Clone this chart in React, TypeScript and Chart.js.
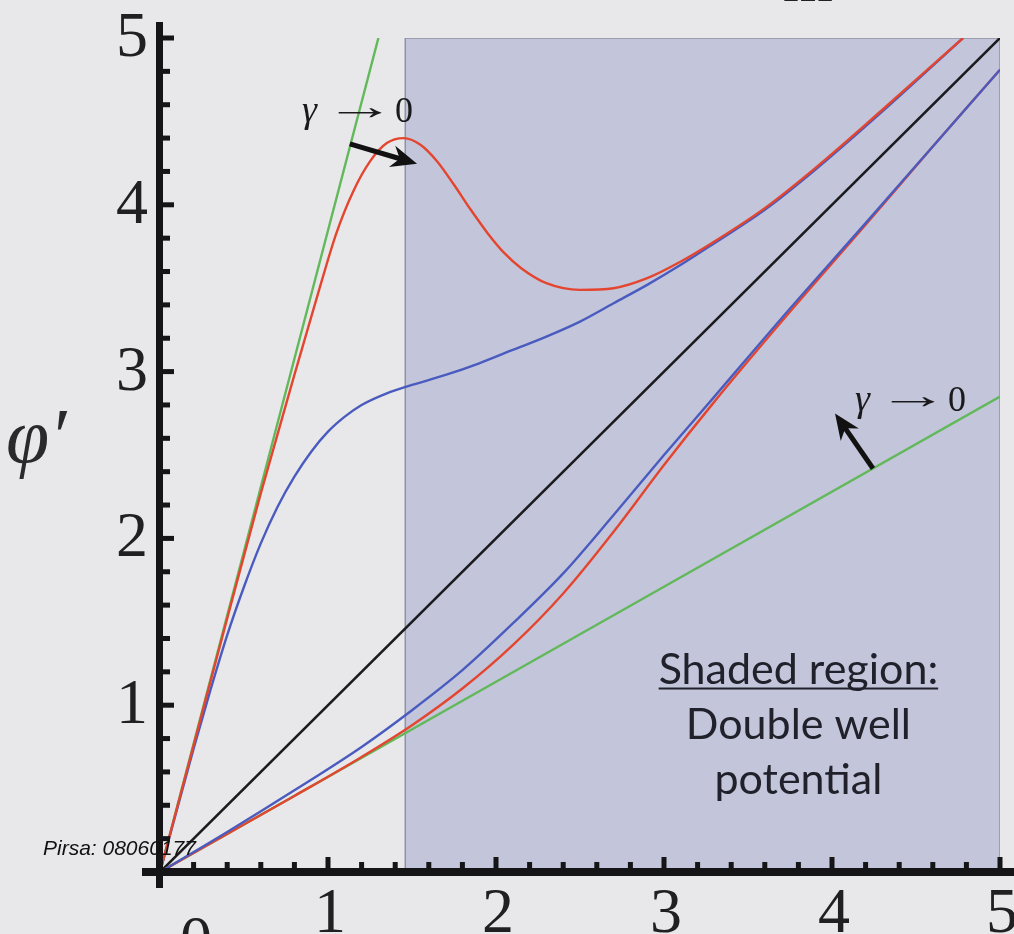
import React, { useEffect, useRef } from "react";
import { Chart, registerables } from "chart.js";

Chart.register(...registerables);

// ---- axis ranges & ticks ----
const X_MIN = 0;
const X_MAX = 5;
const Y_MIN = 0;
const Y_MAX = 5;
const majorTicks = [1, 2, 3, 4, 5];
const xTickLabels = ["1", "2", "3", "4", "5"];
const yTickLabels = ["1", "2", "3", "4", "5"];
const minorTicks = [0.2, 0.4, 0.6, 0.8, 1.2, 1.4, 1.6, 1.8, 2.2, 2.4, 2.6, 2.8, 3.2, 3.4, 3.6, 3.8, 4.2, 4.4, 4.6, 4.8];

// ---- series ----
const redUpperX = [0, 0.2, 0.4, 0.6, 0.8, 0.95, 1.05, 1.15, 1.25, 1.35, 1.45, 1.55, 1.65, 1.75, 1.85, 1.95, 2.05, 2.15, 2.3, 2.5, 2.7, 2.9, 3.1, 3.3, 3.6, 3.9, 4.3, 4.78];
const redUpperY = [0, 0.76, 1.52, 2.27, 2.98, 3.5, 3.83, 4.08, 4.26, 4.37, 4.4, 4.36, 4.26, 4.12, 3.97, 3.83, 3.71, 3.62, 3.53, 3.49, 3.5, 3.56, 3.66, 3.78, 3.98, 4.22, 4.57, 5.0];

const blueUpperX = [0, 0.1, 0.2, 0.3, 0.4, 0.5, 0.6, 0.7, 0.8, 0.9, 1.0, 1.1, 1.2, 1.35, 1.5, 1.7, 1.9, 2.1, 2.3, 2.5, 2.7, 2.9, 3.1, 3.3, 3.6, 3.9, 4.3, 4.78];
const blueUpperY = [0, 0.37, 0.74, 1.09, 1.42, 1.71, 1.97, 2.19, 2.37, 2.52, 2.64, 2.73, 2.8, 2.87, 2.92, 2.98, 3.05, 3.13, 3.21, 3.3, 3.41, 3.52, 3.64, 3.77, 3.97, 4.21, 4.56, 5.0];

const blueLowerX = [0, 0.4, 0.8, 1.2, 1.5, 1.8, 2.1, 2.4, 2.7, 3.0, 3.3, 3.7, 4.2, 4.6, 5.0];
const blueLowerY = [0, 0.24, 0.49, 0.75, 0.97, 1.21, 1.49, 1.79, 2.14, 2.5, 2.85, 3.32, 3.89, 4.35, 4.81];

const redLowerX = [0, 0.4, 0.8, 1.2, 1.5, 1.8, 2.1, 2.4, 2.7, 3.0, 3.3, 3.7, 4.2, 4.6, 5.0];
const redLowerY = [0, 0.228, 0.456, 0.69, 0.88, 1.1, 1.36, 1.67, 2.04, 2.44, 2.82, 3.3, 3.88, 4.35, 4.81];

const blackX = [0, 5];
const blackY = [0, 5];

const greenSteepX = [0, 1.3];
const greenSteepY = [0, 5];

const greenShallowX = [0, 5];
const greenShallowY = [0, 2.85];

const shadeX = [1.46, 1.46, 5, 5];
const shadeY = [0, 5, 5, 0];

// ---- annotations (in data coordinates) ----
const arrow1 = { from: [1.13, 4.365], to: [1.53, 4.246] };
const arrow2 = { from: [4.244, 2.419], to: [4.018, 2.749] };
const gammaLabel1 = [0.845, 4.497];
const gammaLabel2 = [4.137, 2.766];
const shadedLines = ["Shaded region:", "Double well", "potential"];
const shadedAnchor = [3.8, 1.13];

const pts = (xs: number[], ys: number[]) => xs.map((x, i) => ({ x, y: ys[i] }));

const COLORS = {
  bg: "#e8e8ea",
  shade: "#c3c6db",
  shadeBorder: "#8e91a4",
  red: "#e4452f",
  blue: "#4a5bbf",
  green: "#62b85a",
  black: "#1b1b1d",
  ink: "#151518",
};

function drawArrow(ctx: CanvasRenderingContext2D, x1: number, y1: number, x2: number, y2: number) {
  const ang = Math.atan2(y2 - y1, x2 - x1);
  const L = 26;
  const W = 11;
  const bx = x2 - L * Math.cos(ang);
  const by = y2 - L * Math.sin(ang);
  const nx = -Math.sin(ang);
  const ny = Math.cos(ang);
  ctx.save();
  ctx.strokeStyle = "#111";
  ctx.fillStyle = "#111";
  ctx.lineWidth = 5;
  ctx.lineCap = "butt";
  ctx.beginPath();
  ctx.moveTo(x1, y1);
  ctx.lineTo(x2 - 16 * Math.cos(ang), y2 - 16 * Math.sin(ang));
  ctx.stroke();
  ctx.beginPath();
  ctx.moveTo(x2, y2);
  ctx.lineTo(bx + nx * W, by + ny * W);
  ctx.lineTo(x2 - 18 * Math.cos(ang), y2 - 18 * Math.sin(ang));
  ctx.lineTo(bx - nx * W, by - ny * W);
  ctx.closePath();
  ctx.fill();
  ctx.restore();
}

const decorPlugin = {
  id: "decor",
  beforeDraw(chart: any) {
    const ctx = chart.ctx as CanvasRenderingContext2D;
    ctx.save();
    ctx.fillStyle = COLORS.bg;
    ctx.fillRect(0, 0, chart.width, chart.height);
    ctx.restore();
  },
  afterDatasetsDraw(chart: any) {
    const ctx = chart.ctx as CanvasRenderingContext2D;
    const xs = chart.scales.x;
    const ys = chart.scales.y;
    const px = (v: number) => xs.getPixelForValue(v);
    const py = (v: number) => ys.getPixelForValue(v);
    const x0 = px(0);
    const y0 = py(0);

    ctx.save();
    // axes
    ctx.fillStyle = COLORS.ink;
    ctx.fillRect(x0 - 4, py(Y_MAX) - 16, 7, y0 + 16 - (py(Y_MAX) - 16));
    ctx.fillRect(x0 - 18, y0 - 4, chart.width - (x0 - 18), 8);

    // y ticks
    majorTicks.forEach((t) => ctx.fillRect(x0, py(t) - 2.5, 14, 5));
    minorTicks.forEach((t) => ctx.fillRect(x0, py(t) - 2.5, 10, 5));
    // x ticks
    majorTicks.forEach((t) => ctx.fillRect(px(t) - 2.5, y0 - 15, 5, 15));
    minorTicks.forEach((t) => ctx.fillRect(px(t) - 2.5, y0 - 10, 5, 10));

    // tick labels
    ctx.font = '64px "Liberation Serif", "DejaVu Serif", serif';
    ctx.fillStyle = "#202022";
    ctx.textAlign = "right";
    ctx.textBaseline = "alphabetic";
    majorTicks.forEach((t, i) => ctx.fillText(yTickLabels[i], x0 - 12, py(t) + 18));
    ctx.textAlign = "center";
    majorTicks.forEach((t, i) => ctx.fillText(xTickLabels[i], px(t) + 2, y0 + 60));
    ctx.fillText("0", x0 + 36, y0 + 88);

    // axis label
    ctx.textAlign = "left";
    ctx.font = 'italic 78px "Liberation Serif", "DejaVu Serif", serif';
    ctx.fillStyle = "#2a2a2c";
    ctx.fillText("φ′", 6, py(2.46));

    // top fragment of cut-off text
    ctx.font = '64px "Liberation Serif", serif';
    ctx.fillStyle = "#222";
    ctx.textAlign = "center";
    ctx.fillText("m", 808, 1);

    // gamma labels
    const drawGamma = (pos: number[]) => {
      const gx = px(pos[0]);
      const gy = py(pos[1]);
      ctx.textAlign = "left";
      ctx.fillStyle = "#1a1a1c";
      ctx.font = 'italic 38px "Liberation Serif", "DejaVu Serif", serif';
      ctx.fillText("γ", gx, gy);
      ctx.font = '36px "Liberation Serif", "DejaVu Serif", serif';
      ctx.save();
      ctx.translate(gx + 22, gy - 3);
      ctx.scale(2.0, 1.05);
      ctx.fillText("→", 0, 0);
      ctx.restore();
      ctx.fillText("0", gx + 93, gy);
    };
    drawGamma(gammaLabel1);
    drawGamma(gammaLabel2);

    // arrows
    drawArrow(ctx, px(arrow1.from[0]), py(arrow1.from[1]), px(arrow1.to[0]), py(arrow1.to[1]));
    drawArrow(ctx, px(arrow2.from[0]), py(arrow2.from[1]), px(arrow2.to[0]), py(arrow2.to[1]));

    // shaded region caption
    const cx = px(shadedAnchor[0]);
    const cy = py(shadedAnchor[1]);
    ctx.font = '43px Lato, "Open Sans", sans-serif';
    ctx.fillStyle = "#20212b";
    ctx.textAlign = "center";
    shadedLines.forEach((line, i) => {
      ctx.fillText(line, cx, cy + i * 55);
      if (i === 0) {
        const w = ctx.measureText(line).width;
        ctx.fillRect(cx - w / 2, cy + 4, w, 2);
      }
    });

    // watermark
    ctx.font = 'italic 21px "Liberation Sans", Arial, sans-serif';
    ctx.fillStyle = "#111";
    ctx.textAlign = "left";
    ctx.fillText("Pirsa: 08060177", 43, 855);
    ctx.restore();
  },
};

export default function App() {
  const ref = useRef<HTMLCanvasElement | null>(null);
  useEffect(() => {
    if (!ref.current) return;
    const line = (data: any, color: string, width = 2.4) => ({
      data,
      borderColor: color,
      borderWidth: width,
      pointRadius: 0,
      fill: false,
      cubicInterpolationMode: "monotone" as const,
    });
    const chart = new Chart(ref.current, {
      type: "line",
      data: {
        datasets: [
          line(pts(blueLowerX, blueLowerY), COLORS.blue),
          line(pts(redLowerX, redLowerY), COLORS.red),
          line(pts(redUpperX, redUpperY), COLORS.red),
          line(pts(blueUpperX, blueUpperY), COLORS.blue),
          line(pts(blackX, blackY), COLORS.black, 2.6),
          line(pts(greenSteepX, greenSteepY), COLORS.green),
          line(pts(greenShallowX, greenShallowY), COLORS.green),
          {
            data: pts(shadeX, shadeY),
            borderColor: COLORS.shadeBorder,
            borderWidth: 1.5,
            backgroundColor: COLORS.shade,
            pointRadius: 0,
            fill: "origin",
            tension: 0,
            order: 10,
          },
        ],
      },
      options: {
        responsive: false,
        animation: false,
        events: [],
        layout: { padding: { left: 160, right: 14, top: 38, bottom: 62 } },
        plugins: { legend: { display: false }, tooltip: { enabled: false } },
        scales: {
          x: { type: "linear", min: X_MIN, max: X_MAX, display: false },
          y: { type: "linear", min: Y_MIN, max: Y_MAX, display: false },
        },
      },
      plugins: [decorPlugin],
    });
    return () => chart.destroy();
  }, []);
  return (
    <div style={{ position: "fixed", left: 0, top: 0, width: 1014, height: 934, overflow: "hidden" }}>
      <canvas ref={ref} width={1014} height={934} style={{ display: "block" }} />
    </div>
  );
}
